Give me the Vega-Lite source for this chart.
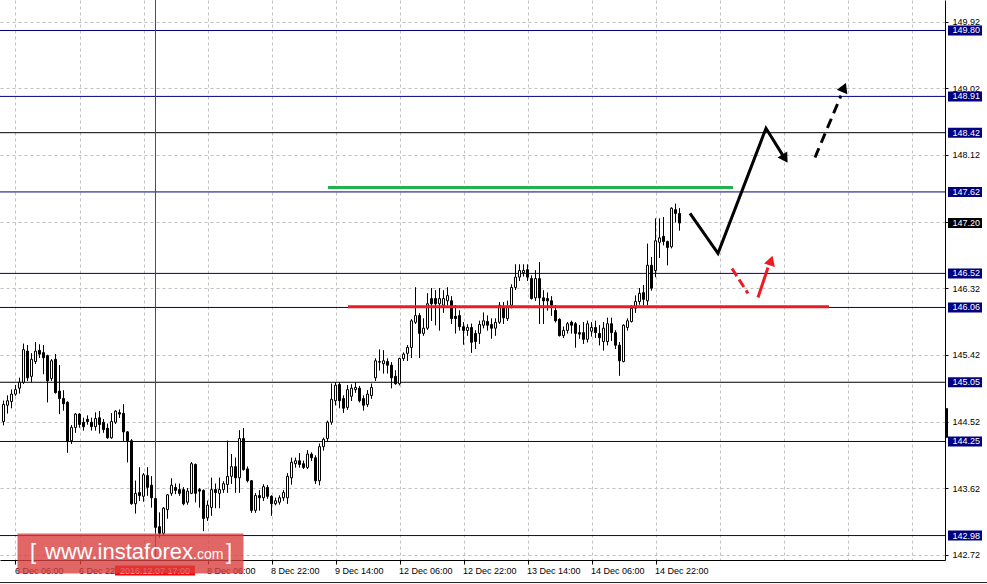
{
"$schema": "https://vega.github.io/schema/vega-lite/v6.json",
"width": 945, "height": 560,
"autosize": {"type": "none"},
"padding": {"left": 0, "top": 0, "right": 42, "bottom": 24},
"background": "white",
"resolve": {"scale": {"color": "independent", "size": "independent"}},
"config": {"view": {"stroke": null}, "scale": {"continuousPadding": 0},
  "axis": {"labelFont": "Liberation Sans", "labelFontSize": 9, "labelColor": "black", "domainColor": "black", "tickColor": "black", "gridColor": "#c0c0c0", "gridDash": [3, 3], "gridWidth": 1}},
"datasets": {
"candles": [
{"i":0,"o":144.52,"h":144.80,"l":144.47,"c":144.75},
{"i":1,"o":144.74,"h":144.87,"l":144.63,"c":144.80},
{"i":2,"o":144.79,"h":144.95,"l":144.70,"c":144.89},
{"i":3,"o":144.89,"h":145.01,"l":144.87,"c":144.95},
{"i":4,"o":144.97,"h":145.11,"l":144.90,"c":145.05},
{"i":5,"o":145.05,"h":145.57,"l":145.03,"c":145.49},
{"i":6,"o":145.47,"h":145.55,"l":145.07,"c":145.11},
{"i":7,"o":145.13,"h":145.44,"l":145.05,"c":145.36},
{"i":8,"o":145.33,"h":145.59,"l":145.30,"c":145.47},
{"i":9,"o":145.48,"h":145.56,"l":145.38,"c":145.43},
{"i":10,"o":145.45,"h":145.55,"l":145.16,"c":145.38},
{"i":11,"o":145.41,"h":145.42,"l":144.78,"c":145.07},
{"i":12,"o":145.10,"h":145.36,"l":145.07,"c":145.34},
{"i":13,"o":145.36,"h":145.43,"l":144.90,"c":144.91},
{"i":14,"o":144.93,"h":145.28,"l":144.62,"c":144.83},
{"i":15,"o":144.83,"h":144.94,"l":144.67,"c":144.76},
{"i":16,"o":144.78,"h":144.79,"l":144.10,"c":144.25},
{"i":17,"o":144.26,"h":144.47,"l":144.22,"c":144.44},
{"i":18,"o":144.44,"h":144.63,"l":144.37,"c":144.62},
{"i":19,"o":144.62,"h":144.63,"l":144.44,"c":144.48},
{"i":20,"o":144.51,"h":144.57,"l":144.40,"c":144.45},
{"i":21,"o":144.55,"h":144.60,"l":144.48,"c":144.52},
{"i":22,"o":144.51,"h":144.57,"l":144.40,"c":144.45},
{"i":23,"o":144.45,"h":144.64,"l":144.40,"c":144.56},
{"i":24,"o":144.57,"h":144.66,"l":144.36,"c":144.48},
{"i":25,"o":144.51,"h":144.55,"l":144.37,"c":144.41},
{"i":26,"o":144.43,"h":144.49,"l":144.29,"c":144.30},
{"i":27,"o":144.30,"h":144.63,"l":144.29,"c":144.52},
{"i":28,"o":144.51,"h":144.67,"l":144.49,"c":144.66},
{"i":29,"o":144.64,"h":144.68,"l":144.57,"c":144.62},
{"i":30,"o":144.63,"h":144.75,"l":144.26,"c":144.38},
{"i":31,"o":144.38,"h":144.39,"l":143.97,"c":144.26},
{"i":32,"o":144.26,"h":144.28,"l":143.40,"c":143.41},
{"i":33,"o":143.41,"h":143.72,"l":143.28,"c":143.55},
{"i":34,"o":143.56,"h":143.90,"l":143.45,"c":143.52},
{"i":35,"o":143.51,"h":143.82,"l":143.44,"c":143.80},
{"i":36,"o":143.79,"h":143.90,"l":143.52,"c":143.63},
{"i":37,"o":143.66,"h":143.78,"l":143.36,"c":143.49},
{"i":38,"o":143.48,"h":143.49,"l":143.02,"c":143.09},
{"i":39,"o":143.10,"h":143.29,"l":142.95,"c":143.01},
{"i":40,"o":143.01,"h":143.36,"l":142.98,"c":143.35},
{"i":41,"o":143.33,"h":143.54,"l":143.21,"c":143.53},
{"i":42,"o":143.55,"h":143.75,"l":143.52,"c":143.66},
{"i":43,"o":143.63,"h":143.68,"l":143.54,"c":143.59},
{"i":44,"o":143.60,"h":143.68,"l":143.52,"c":143.55},
{"i":45,"o":143.60,"h":143.63,"l":143.39,"c":143.41},
{"i":46,"o":143.43,"h":143.62,"l":143.40,"c":143.58},
{"i":47,"o":143.55,"h":143.97,"l":143.54,"c":143.95},
{"i":48,"o":143.94,"h":143.95,"l":143.43,"c":143.55},
{"i":49,"o":143.60,"h":143.62,"l":143.36,"c":143.58},
{"i":50,"o":143.59,"h":143.60,"l":143.04,"c":143.21},
{"i":51,"o":143.22,"h":143.45,"l":143.18,"c":143.39},
{"i":52,"o":143.36,"h":143.76,"l":143.25,"c":143.60},
{"i":53,"o":143.60,"h":143.68,"l":143.35,"c":143.56},
{"i":54,"o":143.55,"h":143.76,"l":143.35,"c":143.60},
{"i":55,"o":143.60,"h":143.71,"l":143.56,"c":143.68},
{"i":56,"o":143.67,"h":144.26,"l":143.56,"c":143.78},
{"i":57,"o":143.78,"h":144.08,"l":143.68,"c":143.91},
{"i":58,"o":143.91,"h":144.03,"l":143.56,"c":143.76},
{"i":59,"o":143.76,"h":144.40,"l":143.56,"c":144.29},
{"i":60,"o":144.29,"h":144.43,"l":143.86,"c":143.87},
{"i":61,"o":143.88,"h":143.91,"l":143.70,"c":143.72},
{"i":62,"o":143.72,"h":143.73,"l":143.29,"c":143.32},
{"i":63,"o":143.32,"h":143.55,"l":143.29,"c":143.52},
{"i":64,"o":143.52,"h":143.59,"l":143.32,"c":143.49},
{"i":65,"o":143.49,"h":143.67,"l":143.45,"c":143.64},
{"i":66,"o":143.63,"h":143.66,"l":143.48,"c":143.51},
{"i":67,"o":143.51,"h":143.52,"l":143.25,"c":143.41},
{"i":68,"o":143.41,"h":143.49,"l":143.39,"c":143.45},
{"i":69,"o":143.43,"h":143.52,"l":143.40,"c":143.49},
{"i":70,"o":143.49,"h":143.59,"l":143.45,"c":143.56},
{"i":71,"o":143.49,"h":143.82,"l":143.41,"c":143.78},
{"i":72,"o":143.76,"h":144.03,"l":143.67,"c":143.97},
{"i":73,"o":143.95,"h":144.03,"l":143.90,"c":143.99},
{"i":74,"o":143.99,"h":144.09,"l":143.90,"c":143.94},
{"i":75,"o":143.95,"h":143.99,"l":143.88,"c":143.90},
{"i":76,"o":143.90,"h":144.13,"l":143.88,"c":144.08},
{"i":77,"o":144.08,"h":144.10,"l":143.99,"c":144.03},
{"i":78,"o":144.03,"h":144.06,"l":143.68,"c":143.72},
{"i":79,"o":143.72,"h":144.22,"l":143.66,"c":144.18},
{"i":80,"o":144.18,"h":144.30,"l":144.13,"c":144.28},
{"i":81,"o":144.29,"h":144.53,"l":144.26,"c":144.51},
{"i":82,"o":144.51,"h":145.03,"l":144.48,"c":144.82},
{"i":83,"o":144.80,"h":145.05,"l":144.74,"c":145.01},
{"i":84,"o":145.02,"h":145.05,"l":144.70,"c":144.80},
{"i":85,"o":144.83,"h":144.87,"l":144.64,"c":144.70},
{"i":86,"o":144.71,"h":145.01,"l":144.68,"c":144.95},
{"i":87,"o":144.86,"h":145.02,"l":144.80,"c":144.97},
{"i":88,"o":144.95,"h":145.05,"l":144.91,"c":144.98},
{"i":89,"o":144.97,"h":145.00,"l":144.78,"c":144.80},
{"i":90,"o":144.83,"h":144.87,"l":144.67,"c":144.74},
{"i":91,"o":144.75,"h":144.94,"l":144.72,"c":144.89},
{"i":92,"o":144.87,"h":145.03,"l":144.83,"c":144.98},
{"i":93,"o":145.11,"h":145.37,"l":145.07,"c":145.34},
{"i":94,"o":145.32,"h":145.49,"l":145.21,"c":145.33},
{"i":95,"o":145.30,"h":145.48,"l":145.17,"c":145.34},
{"i":96,"o":145.33,"h":145.37,"l":145.17,"c":145.28},
{"i":97,"o":145.28,"h":145.32,"l":144.97,"c":145.11},
{"i":98,"o":145.13,"h":145.21,"l":145.02,"c":145.03},
{"i":99,"o":145.03,"h":145.38,"l":145.01,"c":145.37},
{"i":100,"o":145.37,"h":145.45,"l":145.34,"c":145.43},
{"i":101,"o":145.44,"h":145.55,"l":145.34,"c":145.52},
{"i":102,"o":145.52,"h":145.90,"l":145.38,"c":145.88},
{"i":103,"o":145.86,"h":146.33,"l":145.84,"c":145.95},
{"i":104,"o":145.95,"h":145.98,"l":145.38,"c":145.71},
{"i":105,"o":145.71,"h":145.91,"l":145.68,"c":145.78},
{"i":106,"o":145.78,"h":146.25,"l":145.76,"c":146.11},
{"i":107,"o":146.18,"h":146.32,"l":145.88,"c":146.11},
{"i":108,"o":146.18,"h":146.29,"l":145.82,"c":146.11},
{"i":109,"o":146.11,"h":146.32,"l":145.75,"c":146.18},
{"i":110,"o":146.09,"h":146.29,"l":145.99,"c":146.18},
{"i":111,"o":146.15,"h":146.33,"l":146.09,"c":146.22},
{"i":112,"o":146.15,"h":146.21,"l":145.84,"c":145.91},
{"i":113,"o":145.94,"h":146.09,"l":145.71,"c":145.91},
{"i":114,"o":145.95,"h":146.02,"l":145.75,"c":145.80},
{"i":115,"o":145.80,"h":145.86,"l":145.56,"c":145.75},
{"i":116,"o":145.75,"h":145.83,"l":145.68,"c":145.79},
{"i":117,"o":145.79,"h":145.84,"l":145.45,"c":145.59},
{"i":118,"o":145.71,"h":145.75,"l":145.50,"c":145.60},
{"i":119,"o":145.71,"h":145.88,"l":145.57,"c":145.83},
{"i":120,"o":145.82,"h":145.99,"l":145.78,"c":145.88},
{"i":121,"o":145.87,"h":145.95,"l":145.75,"c":145.82},
{"i":122,"o":145.83,"h":145.91,"l":145.64,"c":145.78},
{"i":123,"o":145.78,"h":145.91,"l":145.68,"c":145.86},
{"i":124,"o":145.86,"h":146.13,"l":145.84,"c":146.09},
{"i":125,"o":146.05,"h":146.13,"l":145.84,"c":145.92},
{"i":126,"o":145.91,"h":146.15,"l":145.88,"c":146.07},
{"i":127,"o":146.09,"h":146.37,"l":146.05,"c":146.33},
{"i":128,"o":146.33,"h":146.64,"l":146.30,"c":146.47},
{"i":129,"o":146.47,"h":146.64,"l":146.42,"c":146.56},
{"i":130,"o":146.53,"h":146.64,"l":146.48,"c":146.56},
{"i":131,"o":146.57,"h":146.64,"l":146.42,"c":146.47},
{"i":132,"o":146.45,"h":146.49,"l":146.17,"c":146.18},
{"i":133,"o":146.19,"h":146.56,"l":146.15,"c":146.45},
{"i":134,"o":146.45,"h":146.67,"l":145.84,"c":146.19},
{"i":135,"o":146.19,"h":146.29,"l":145.84,"c":146.15},
{"i":136,"o":146.18,"h":146.26,"l":146.02,"c":146.15},
{"i":137,"o":146.15,"h":146.21,"l":145.95,"c":146.09},
{"i":138,"o":146.02,"h":146.09,"l":145.86,"c":145.88},
{"i":139,"o":145.90,"h":145.91,"l":145.67,"c":145.68},
{"i":140,"o":145.68,"h":145.80,"l":145.65,"c":145.75},
{"i":141,"o":145.75,"h":145.86,"l":145.71,"c":145.84},
{"i":142,"o":145.86,"h":145.88,"l":145.71,"c":145.82},
{"i":143,"o":145.84,"h":145.86,"l":145.52,"c":145.71},
{"i":144,"o":145.72,"h":145.82,"l":145.64,"c":145.70},
{"i":145,"o":145.72,"h":145.86,"l":145.57,"c":145.63},
{"i":146,"o":145.63,"h":145.88,"l":145.59,"c":145.84},
{"i":147,"o":145.74,"h":145.86,"l":145.67,"c":145.79},
{"i":148,"o":145.79,"h":145.88,"l":145.65,"c":145.72},
{"i":149,"o":145.71,"h":145.82,"l":145.55,"c":145.65},
{"i":150,"o":145.60,"h":145.86,"l":145.48,"c":145.78},
{"i":151,"o":145.60,"h":145.92,"l":145.55,"c":145.84},
{"i":152,"o":145.84,"h":145.92,"l":145.61,"c":145.72},
{"i":153,"o":145.72,"h":145.75,"l":145.50,"c":145.55},
{"i":154,"o":145.55,"h":145.59,"l":145.14,"c":145.34},
{"i":155,"o":145.33,"h":145.83,"l":145.32,"c":145.82},
{"i":156,"o":145.79,"h":145.91,"l":145.75,"c":145.88},
{"i":157,"o":145.87,"h":146.09,"l":145.86,"c":146.05},
{"i":158,"o":146.05,"h":146.22,"l":145.99,"c":146.14},
{"i":159,"o":146.14,"h":146.32,"l":146.10,"c":146.25},
{"i":160,"o":146.26,"h":146.36,"l":146.09,"c":146.17},
{"i":161,"o":146.15,"h":146.92,"l":146.09,"c":146.63},
{"i":162,"o":146.63,"h":146.74,"l":146.29,"c":146.32},
{"i":163,"o":146.56,"h":147.26,"l":146.47,"c":146.96},
{"i":164,"o":146.94,"h":147.26,"l":146.73,"c":147.00},
{"i":165,"o":147.02,"h":147.28,"l":146.90,"c":146.95},
{"i":166,"o":146.95,"h":146.96,"l":146.63,"c":146.87},
{"i":167,"o":146.88,"h":147.41,"l":146.86,"c":147.40},
{"i":168,"o":147.38,"h":147.46,"l":147.21,"c":147.33},
{"i":169,"o":147.33,"h":147.40,"l":147.10,"c":147.20}
],
"levels": [
{"p":149.80,"kind":"navy"},{"p":148.91,"kind":"navy"},{"p":148.42,"kind":"black"},{"p":147.62,"kind":"navy"},
{"p":146.52,"kind":"navy"},{"p":146.06,"kind":"navy"},{"p":145.05,"kind":"black"},{"p":144.25,"kind":"navy"},{"p":142.98,"kind":"navy"}
],
"tags": [
{"p":149.80,"kind":"level"},{"p":148.91,"kind":"level"},{"p":148.42,"kind":"level"},{"p":147.62,"kind":"level"},{"p":147.20,"kind":"bid"},
{"p":146.52,"kind":"level"},{"p":146.06,"kind":"level"},{"p":145.05,"kind":"level"},{"p":144.25,"kind":"level"},{"p":142.98,"kind":"level"}
]
},
"layer": [
{"data": {"name": "candles"}, "mark": {"type": "rule", "color": "black", "strokeWidth": 1},
 "encoding": {
  "x": {"field": "i", "type": "quantitative", "title": null, "scale": {"domain": [-0.875, 235.375], "nice": false, "zero": false, "padding": 0},
   "axis": {"orient": "bottom", "title": null, "values": [3,11,19,27,35,43,51,59,67,75,83,91,99,107,115,123,131,139,147,155,163,171,179,187,195,203,211,219,227,235], "grid": true, "tickSize": 4,
    "tickOpacity": {"condition": {"test": "datum.value==3||datum.value==19||(datum.value>=51&&datum.value<=163&&(datum.value-3)%16==0)", "value": 1}, "value": 0},
    "labelExpr": "datum.value==3?'6 Dec 06:00':datum.value==19?'6 Dec 22:00':datum.value==51?'8 Dec 06:00':datum.value==67?'8 Dec 22:00':datum.value==83?'9 Dec 14:00':datum.value==99?'12 Dec 06:00':datum.value==115?'12 Dec 22:00':datum.value==131?'13 Dec 14:00':datum.value==147?'14 Dec 06:00':datum.value==163?'14 Dec 22:00':''",
    "labelAlign": "left", "labelBaseline": "top", "labelPadding": 2, "labelOffset": -1, "labelOverlap": false, "labelBound": false, "labelFlush": false}},
  "y": {"field": "l", "type": "quantitative", "title": null, "scale": {"domain": [142.6498, 150.2118], "nice": false, "zero": false, "padding": 0},
   "axis": {"orient": "right", "title": null, "values": [142.72,143.17,143.62,144.07,144.52,144.97,145.42,145.87,146.32,146.77,147.22,147.67,148.12,148.57,149.02,149.47,149.92], "format": ".2f", "grid": true, "tickSize": 3, "labelPadding": 4, "labelAlign": "left", "labelBaseline": "middle", "labelOverlap": false, "labelBound": false, "labelFlush": false}},
  "y2": {"field": "h"}}},
{"data": {"name": "levels"}, "transform": [{"filter": "datum.kind == 'navy'"}], "mark": {"type": "rule", "strokeWidth": 1, "color": "#000080"},
 "encoding": {"y": {"field": "p", "type": "quantitative", "title": null}}},
{"data": {"name": "levels"}, "transform": [{"filter": "datum.kind == 'black'"}], "mark": {"type": "rule", "strokeWidth": 1, "color": "#000000"},
 "encoding": {"y": {"field": "p", "type": "quantitative", "title": null}}},
{"data": {"values": [{"i": 38}]}, "mark": {"type": "rule", "color": "#ff0000", "strokeWidth": 1},
 "encoding": {"x": {"field": "i", "type": "quantitative", "title": null}}},
{"data": {"name": "candles"}, "mark": {"type": "rule", "color": "black", "strokeWidth": 1},
 "encoding": {
  "x": {"field": "i", "type": "quantitative", "title": null},
  "y": {"field": "l", "type": "quantitative", "title": null},
  "y2": {"field": "h"}}},
{"data": {"name": "candles"}, "mark": {"type": "bar", "size": 2, "stroke": "black", "strokeWidth": 1},
 "encoding": {
  "x": {"field": "i", "type": "quantitative", "title": null},
  "y": {"field": "o", "type": "quantitative", "title": null},
  "y2": {"field": "c"},
  "fill": {"condition": {"test": "datum.c < datum.o", "value": "black"}, "value": "white"}}},
{"data": {"values": [{"i": 81.125, "p": 147.68}, {"i": 182.375, "p": 147.68}]}, "mark": {"type": "line", "color": "#22b14c", "strokeWidth": 3},
 "encoding": {"x": {"field": "i", "type": "quantitative", "title": null}, "y": {"field": "p", "type": "quantitative", "title": null}}},
{"data": {"values": [{"i": 86.125, "p": 146.07}, {"i": 206.375, "p": 146.07}]}, "mark": {"type": "line", "color": "#ed1c24", "strokeWidth": 3},
 "encoding": {"x": {"field": "i", "type": "quantitative", "title": null}, "y": {"field": "p", "type": "quantitative", "title": null}}},
{"data": {"values": [{"k": 1, "i": 171.625, "p": 147.33}, {"k": 2, "i": 178.625, "p": 146.79}, {"k": 3, "i": 190.625, "p": 148.48}, {"k": 4, "i": 194.875, "p": 148.11}]}, "mark": {"type": "line", "color": "black", "strokeWidth": 3},
 "encoding": {"x": {"field": "i", "type": "quantitative", "title": null}, "y": {"field": "p", "type": "quantitative", "title": null}, "order": {"field": "k"}}},
{"data": {"values": [{"i": 202.875, "p": 148.085}, {"i": 209.375, "p": 148.92}]}, "mark": {"type": "line", "color": "black", "strokeWidth": 3, "strokeDash": [10, 6]},
 "encoding": {"x": {"field": "i", "type": "quantitative", "title": null}, "y": {"field": "p", "type": "quantitative", "title": null}}},
{"data": {"values": [{"i": 182.125, "p": 146.586}, {"i": 186.125, "p": 146.25}]}, "mark": {"type": "line", "color": "#ed1c24", "strokeWidth": 3, "strokeDash": [9, 4]},
 "encoding": {"x": {"field": "i", "type": "quantitative", "title": null}, "y": {"field": "p", "type": "quantitative", "title": null}}},
{"data": {"values": [{"i": 188.625, "p": 146.194}, {"i": 191.125, "p": 146.6}]}, "mark": {"type": "line", "color": "#ed1c24", "strokeWidth": 3},
 "encoding": {"x": {"field": "i", "type": "quantitative", "title": null}, "y": {"field": "p", "type": "quantitative", "title": null}}},
{"data": {"values": [{"i": 195.375, "p": 148.07, "a": 148, "col": "k"}, {"i": 210.125, "p": 149.03, "a": 23, "col": "k"}, {"i": 191.875, "p": 146.694, "a": 18, "col": "r"}]},
 "mark": {"type": "point", "shape": "triangle-up", "filled": true, "size": 130, "opacity": 1},
 "encoding": {"x": {"field": "i", "type": "quantitative", "title": null}, "y": {"field": "p", "type": "quantitative", "title": null},
  "angle": {"field": "a", "type": "quantitative", "scale": null},
  "color": {"field": "col", "type": "nominal", "scale": {"domain": ["k", "r"], "range": ["#000000", "#ed1c24"]}, "legend": null}}},
{"data": {"values": [{"x": 235.75, "a": 144.70, "b": 144.30}]}, "mark": {"type": "rule", "color": "black", "strokeWidth": 3},
 "encoding": {"x": {"field": "x", "type": "quantitative", "title": null}, "y": {"field": "a", "type": "quantitative", "title": null}, "y2": {"field": "b"}}},
{"data": {"name": "tags"}, "mark": {"type": "rect", "yOffset": -5, "y2Offset": 5},
 "encoding": {"x": {"datum": 236.125, "type": "quantitative"}, "x2": {"datum": 244.625},
  "y": {"field": "p", "type": "quantitative", "title": null}, "y2": {"field": "p"},
  "color": {"field": "kind", "type": "nominal", "scale": {"domain": ["level", "bid"], "range": ["#000080", "#000000"]}, "legend": null}}},
{"data": {"name": "tags"}, "mark": {"type": "text", "align": "left", "baseline": "middle", "font": "Liberation Sans", "fontSize": 9, "color": "white"},
 "encoding": {"x": {"datum": 237.25, "type": "quantitative"}, "y": {"field": "p", "type": "quantitative", "title": null},
  "text": {"field": "p", "type": "quantitative", "format": ".2f"}}},
{"data": {"values": [{"t": "2016.12.07 17:00"}]}, "mark": {"type": "rect", "color": "#ff0000"},
 "encoding": {"x": {"datum": 27.875, "type": "quantitative"}, "x2": {"datum": 47.875},
  "y": {"datum": 142.575, "type": "quantitative"}, "y2": {"datum": 142.44}}},
{"data": {"values": [{"t": "2016.12.07 17:00"}]}, "mark": {"type": "text", "align": "center", "baseline": "middle", "font": "Liberation Sans", "fontSize": 9, "color": "white"},
 "encoding": {"x": {"datum": 37.875, "type": "quantitative"}, "y": {"datum": 142.508, "type": "quantitative"}, "text": {"field": "t"}}},
{"data": {"values": [{"t": "www.instaforex.com"}]}, "mark": {"type": "rect", "color": "#d94040", "opacity": 0.8},
 "encoding": {"x": {"datum": 3.5, "type": "quantitative"}, "x2": {"datum": 60.0},
  "y": {"datum": 143.007, "type": "quantitative"}, "y2": {"datum": 142.467}}},
{"data": {"values": [{"t": "[", "x": 6.625, "s": "b"}, {"t": "www.instaforex", "x": 10.375, "s": "b"}, {"t": ".com", "x": 47.375, "s": "s"}, {"t": "]", "x": 55.625, "s": "b"}]},
 "mark": {"type": "text", "align": "left", "baseline": "alphabetic", "font": "Liberation Sans", "color": "white"},
 "encoding": {"x": {"field": "x", "type": "quantitative", "title": null}, "y": {"datum": 142.67, "type": "quantitative"},
  "text": {"field": "t"},
  "size": {"field": "s", "type": "nominal", "scale": {"domain": ["b", "s"], "range": [22, 14]}, "legend": null}}},
{"data": {"values": [{"t": "frame"}]}, "mark": {"type": "rule", "color": "#202020", "strokeWidth": 1},
 "encoding": {"x": {"datum": -0.875, "type": "quantitative"}, "x2": {"datum": 245.875},
  "y": {"datum": 142.3454, "type": "quantitative"}}}
]
}
